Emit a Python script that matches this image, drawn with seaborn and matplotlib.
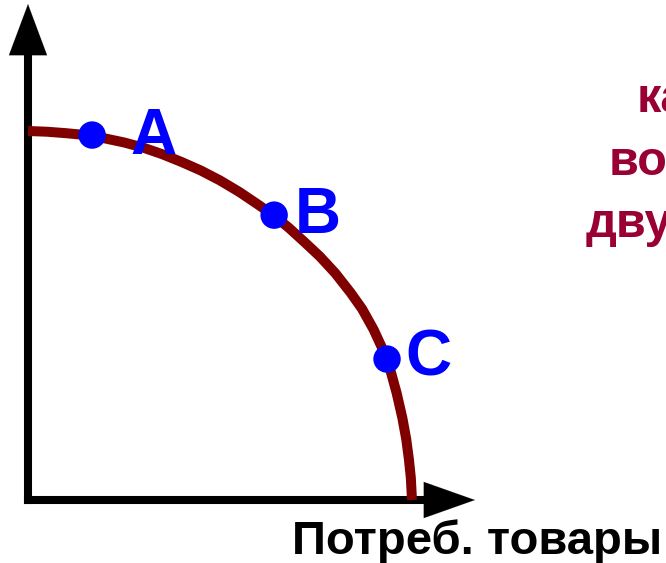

# Import relevant libraries
import numpy as np
import pandas as pd
import seaborn as sns
from matplotlib import pyplot as plt

### DATA (0-100 on both axes) ###
# Production possibility curve: consumer goods (x) vs capital goods (y)
curve_x = [0, 5, 10, 15, 20, 25, 30, 35, 40, 45, 50, 55, 60, 64, 68, 72, 76, 80, 84, 87, 90, 92, 94, 96,
           97.5, 98.5, 99.2, 99.7, 100]
curve_y = [100, 99.8, 99.4, 98.9, 98.0, 96.9, 95.5, 93.7, 91.6, 89.3, 86.6, 83.5, 80.0, 77.1, 73.7, 69.9,
           66.0, 61.5, 56.2, 51.8, 46.2, 41.7, 36.6, 29.0, 22.2, 16.5, 11.0, 6.0, 0]
# Marked points on the curve
point_names = ["A", "B", "C"]
point_x = [16.7, 64.1, 93.5]
point_y = [98.9, 77.2, 38.2]
# Axis label and the (cut off) text on the right
x_label = "Потреб. товары"
side_lines = ["ка", "во", "дву"]

curve_df = pd.DataFrame({"x": curve_x, "y": curve_y})
points_df = pd.DataFrame({"name": point_names, "x": point_x, "y": point_y})

sns.set_style("white")
plt.rcParams['font.family'] = ['Liberation Sans', 'DejaVu Sans']

fig = plt.figure(figsize=(6.66, 5.63), dpi=100)
ax = fig.add_axes([0, 0, 1, 1])
ax.set_xlim(-7.29, 166.15)
ax.set_ylim(-17.07, 135.5)
ax.axis('off')

# Axes with arrows (shaft as line, head as filled arrow)
y_tip, y_base = 134.4, 120.5
x_tip, x_base = 116.4, 103.1
ax.plot([0, 0], [0, y_base + 0.5], color='black', lw=5.8, solid_capstyle='projecting', zorder=2)
ax.plot([0, x_base + 0.5], [0, 0], color='black', lw=5.8, solid_capstyle='projecting', zorder=2)
ax.annotate('', xy=(0, y_tip), xytext=(0, y_base),
            arrowprops=dict(arrowstyle='-|>,head_length=36.7,head_width=13.7', mutation_scale=1,
                            lw=0.1, fc='black', ec='black', shrinkA=0, shrinkB=0))
ax.annotate('', xy=(x_tip, 0), xytext=(x_base, 0),
            arrowprops=dict(arrowstyle='-|>,head_length=36.7,head_width=13.0', mutation_scale=1,
                            lw=0.1, fc='black', ec='black', shrinkA=0, shrinkB=0))

# Curve
sns.lineplot(x='x', y='y', data=curve_df, sort=False, color='#800000', lw=7.2, ax=ax,
             solid_capstyle='butt', solid_joinstyle='round', zorder=3)

# Points and their letters
sns.scatterplot(x='x', y='y', data=points_df, color='#0000FF', s=390, edgecolor='none', ax=ax, zorder=4)
label_offsets = {"A": (27.4, -13.7), "B": (15.0, -13.0), "C": (13.5, -12.2)}
for i, row in points_df.iterrows():
    ax.annotate(row['name'], xy=(row['x'], row['y']), xytext=label_offsets[row['name']],
                textcoords='offset points', color='#0000FF', fontsize=46, fontweight='bold',
                ha='left', va='baseline', zorder=5)

# Bottom axis label
fig.text(292 / 666, 1 - 554 / 563, x_label, fontsize=34, fontweight='bold', color='black',
         ha='left', va='baseline')

# Text on the right that runs off the edge
side_x = [637, 609, 586]
side_base = [112, 175, 237]
for i, line in enumerate(side_lines):
    fig.text(side_x[i] / 666, 1 - side_base[i] / 563, line, fontsize=35, fontweight='bold',
             color='#990033', ha='left', va='baseline')

plt.savefig("out.png", dpi=100)
